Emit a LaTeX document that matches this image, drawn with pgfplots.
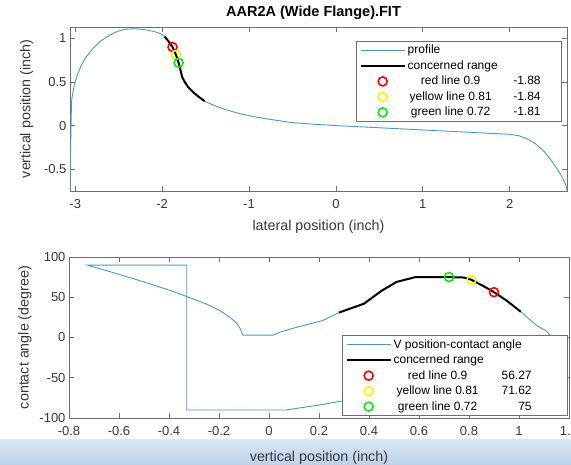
\documentclass[border=0pt]{standalone}
\usepackage{pgfplots}
\pgfplotsset{compat=1.18}
\usepackage{fontspec}
\setmainfont{Liberation Sans}
\definecolor{mblue}{RGB}{72,150,205}
\definecolor{axgray}{RGB}{110,110,110}
\definecolor{txt}{RGB}{55,55,55}
\definecolor{myellow}{RGB}{255,240,0}
\definecolor{mgreen}{RGB}{20,225,20}
\definecolor{bandtop}{RGB}{218,231,244}
\definecolor{bandbot}{RGB}{188,210,234}
\pgfplotsset{
  mstyle/.style={
    scale only axis,
    axis line style={axgray, line width=0.7pt},
    tick style={axgray, line width=0.6pt},
    tick align=inside,
    major tick length=5pt,
    tick label style={font=\fontsize{13}{13}\selectfont, text=txt},
    xticklabel style={yshift=-5pt},
    label style={font=\fontsize{14.3}{15}\selectfont, text=txt},
    /pgf/number format/assume math mode=true,
    legend cell align=left,
    legend style={draw=axgray, line width=0.7pt, fill=white, font=\fontsize{12}{13}\selectfont,
      inner xsep=3pt, inner ysep=2pt, nodes={inner sep=2pt}, row sep=1.3pt},
    every axis title shift=0pt,
  },
  lineleg/.style={legend image code/.code={\draw[##1] (0pt,0pt) -- (44pt,0pt);}},
  markleg/.style={legend image code/.code={\path[draw=none,fill=none] (0pt,0pt) -- (44pt,0pt); \draw[##1] plot coordinates {(22pt,0pt)};}},
}
\begin{document}
\begin{tikzpicture}
\useasboundingbox (0pt,0pt) rectangle (571pt,-464pt);
\shade[top color=bandtop, bottom color=bandbot] (0pt,-439pt) rectangle (571pt,-464pt);
% ---------------- top axis
\begin{axis}[mstyle,
  at={(70pt,-27pt)}, anchor=north west,
  width=497pt, height=164pt,
  xmin=-3.06, xmax=2.66, ymin=-0.75, ymax=1.13,
  xtick={-3,-2,-1,0,1,2}, ytick={-0.5,0,0.5,1},
  xlabel={lateral position (inch)},
  ylabel={vertical position (inch)},
  xlabel style={at={(axis description cs:0.5,-0.22)}, anchor=center},
  ylabel style={at={(axis description cs:-0.087,0.5)}, anchor=center},
  title={AAR2A (Wide Flange).FIT},
  title style={font=\bfseries\fontsize{14.5}{15}\selectfont, at={(axis description cs:0.49,1.085)}, anchor=center},
  legend style={at={(0.99,0.915)}, anchor=north east},
]
\addplot[mblue, line width=0.9pt, lineleg] coordinates {
(-3.06,-0.76) (-3.055,-0.4) (-3.05,-0.1) (-3.045,0.15) (-3.04,0.30) (-3.01,0.47) (-2.98,0.57)
(-2.93,0.69) (-2.88,0.78) (-2.80,0.88) (-2.70,0.975) (-2.60,1.04) (-2.50,1.085) (-2.42,1.105)
(-2.32,1.11) (-2.20,1.10) (-2.10,1.08) (-2.02,1.055) (-1.97,1.02) (-1.93,0.97) (-1.88,0.9)
(-1.84,0.81) (-1.81,0.72) (-1.785,0.62) (-1.77,0.56) (-1.74,0.50) (-1.70,0.44) (-1.65,0.39)
(-1.58,0.33) (-1.51,0.28) (-1.40,0.23) (-1.26,0.18) (-1.10,0.135) (-0.93,0.10) (-0.75,0.07)
(-0.51,0.035) (-0.25,0.015) (0,0) (0.5,-0.025) (1,-0.05) (1.5,-0.075) (2,-0.10) (2.1,-0.115)
(2.2,-0.15) (2.3,-0.21) (2.4,-0.30) (2.48,-0.40) (2.55,-0.50) (2.61,-0.60) (2.645,-0.68) (2.67,-0.77)
};
\addlegendentry{profile}
\addplot[black, line width=2pt, lineleg] coordinates {
(-1.97,1.02) (-1.93,0.97) (-1.88,0.9) (-1.84,0.81) (-1.81,0.72) (-1.785,0.62) (-1.77,0.56)
(-1.74,0.50) (-1.70,0.44) (-1.65,0.39) (-1.58,0.33) (-1.51,0.28)
};
\addlegendentry{concerned range}
\addplot[only marks, mark=o, mark size=4.5pt, draw=red, mark options={line width=1.6pt}, markleg] coordinates {(-1.88,0.9)};
\addlegendentry{\makebox[86pt][c]{red line 0.9}\makebox[47pt][r]{-1.88}\hspace*{16pt}}
\addplot[only marks, mark=o, mark size=4.5pt, draw=myellow, mark options={line width=1.6pt}, markleg] coordinates {(-1.84,0.81)};
\addlegendentry{\makebox[86pt][c]{yellow line 0.81}\makebox[47pt][r]{-1.84}\hspace*{16pt}}
\addplot[only marks, mark=o, mark size=4.5pt, draw=mgreen, mark options={line width=1.6pt}, markleg] coordinates {(-1.81,0.72)};
\addlegendentry{\makebox[86pt][c]{green line 0.72}\makebox[47pt][r]{-1.81}\hspace*{16pt}}
\end{axis}
% ---------------- bottom axis
\begin{axis}[mstyle,
  at={(69pt,-257pt)}, anchor=north west,
  width=500pt, height=161pt,
  xmin=-0.8, xmax=1.2, ymin=-100, ymax=100,
  xtick={-0.8,-0.6,-0.4,-0.2,0,0.2,0.4,0.6,0.8,1,1.2},
  xticklabels={-0.8,-0.6,-0.4,-0.2,0,0.2,0.4,0.6,0.8,1,1.2},
  ytick={-100,-50,0,50,100},
  yticklabels={-100,-50,0,50,100},
  xlabel={vertical position (inch)},
  ylabel={contact angle (degree)},
  xlabel style={at={(axis description cs:0.5,-0.245)}, anchor=center},
  ylabel style={at={(axis description cs:-0.088,0.5)}, anchor=center},
  legend style={at={(0.998,0.012)}, anchor=south east},
]
\addplot[mblue, line width=0.9pt, lineleg] coordinates {
(0.40,-74) (0.29,-79) (0.19,-84.4) (0.068,-90) (-0.329,-90) (-0.329,90) (-0.727,90)
(-0.6,78.5) (-0.5,69) (-0.4,59) (-0.33,51) (-0.25,41.5) (-0.2,34) (-0.16,26) (-0.13,18)
(-0.115,11) (-0.104,3) (0.017,3) (0.047,7) (0.12,13.5) (0.214,21) (0.28,31)
(0.38,42) (0.45,58) (0.51,69) (0.585,75) (0.72,75) (0.78,74.5) (0.81,71.62) (0.86,63.5)
(0.90,56.27) (0.95,46) (1.007,32) (1.04,23) (1.07,15) (1.11,8) (1.13,0)
};
\addlegendentry{V position-contact angle}
\addplot[black, line width=2pt, lineleg] coordinates {
(0.28,31) (0.38,42) (0.45,58) (0.51,69) (0.585,75) (0.72,75) (0.78,74.5) (0.81,71.62)
(0.86,63.5) (0.90,56.27) (0.95,46) (1.007,32)
};
\addlegendentry{concerned range}
\addplot[only marks, mark=o, mark size=4.5pt, draw=red, mark options={line width=1.6pt}, markleg] coordinates {(0.9,56.27)};
\addlegendentry{\makebox[88pt][c]{red line 0.9}\makebox[50pt][r]{56.27}\hspace*{31pt}}
\addplot[only marks, mark=o, mark size=4.5pt, draw=myellow, mark options={line width=1.6pt}, markleg] coordinates {(0.81,71.62)};
\addlegendentry{\makebox[88pt][c]{yellow line 0.81}\makebox[50pt][r]{71.62}\hspace*{31pt}}
\addplot[only marks, mark=o, mark size=4.5pt, draw=mgreen, mark options={line width=1.6pt}, markleg] coordinates {(0.72,75)};
\addlegendentry{\makebox[88pt][c]{green line 0.72}\makebox[50pt][r]{75}\hspace*{31pt}}
\end{axis}
\end{tikzpicture}
\end{document}
